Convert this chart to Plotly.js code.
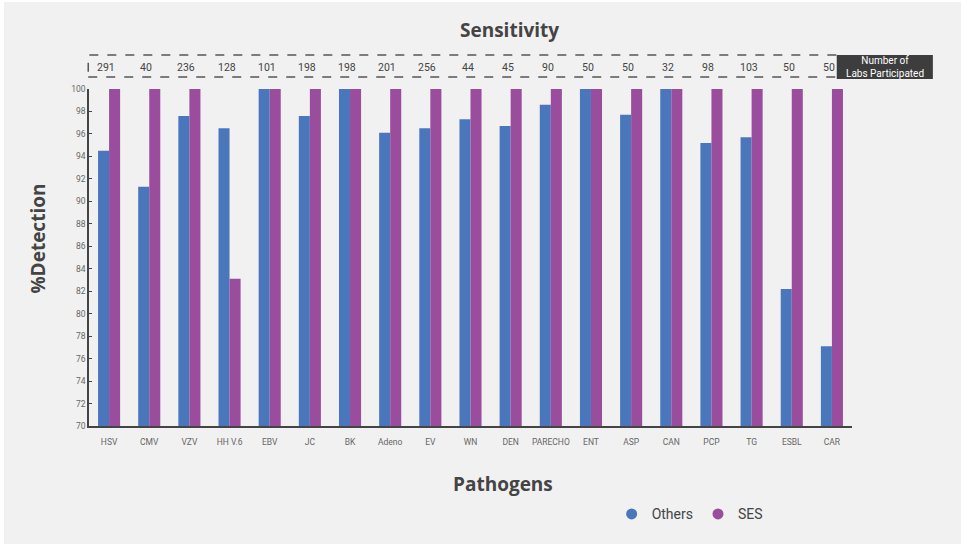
<!DOCTYPE html>
<html>
<head>
<meta charset="utf-8">
<script src="https://cdn.plot.ly/plotly-3.0.1.min.js"></script>
<style>
html,body{margin:0;padding:0;background:#ffffff;}
#chart{position:absolute;left:4px;top:2px;width:957px;height:542px;}
</style>
</head>
<body>
<div id="chart"></div>
<script>
var pathogens = ["HSV","CMV","VZV","HH V.6","EBV","JC","BK","Adeno","EV","WN","DEN","PARECHO","ENT","ASP","CAN","PCP","TG","ESBL","CAR"];
var othersValues = [94.5,91.3,97.6,96.5,100,97.6,100,96.1,96.5,97.3,96.7,98.6,100,97.7,100,95.2,95.7,82.2,77.1];
var sesValues = [100,100,100,83.1,100,100,100,100,100,100,100,100,100,100,100,100,100,100,100];
var labsParticipated = [291,40,236,128,101,198,198,201,256,44,45,90,50,50,32,98,103,50,50];

var blue = "#4a77bc", purple = "#9a4c9d";

var traces = [
  {type:"bar", name:"Others", x:pathogens, y:othersValues, marker:{color:blue}, showlegend:false, hoverinfo:"x+y"},
  {type:"bar", name:"SES", x:pathogens, y:sesValues, marker:{color:purple}, showlegend:false, hoverinfo:"x+y"},
  {type:"scatter", mode:"markers", name:"Others", x:[null], y:[null], marker:{color:blue, size:11, symbol:"circle"}},
  {type:"scatter", mode:"markers", name:"SES", x:[null], y:[null], marker:{color:purple, size:11, symbol:"circle"}}
];

var annotations = [];
for (var i = 0; i < pathogens.length; i++) {
  annotations.push({xref:"x", yref:"paper", x:pathogens[i], y:1.065, xshift:-3, text:String(labsParticipated[i]),
    showarrow:false, font:{family:"Roboto", size:10.5, color:"#444"}, xanchor:"center", yanchor:"middle"});
}
annotations.push({xref:"paper", yref:"paper", x:1.043, y:1.065, text:"Number of<br>Labs Participated",
  showarrow:false, font:{family:"Roboto", size:10, color:"#ffffff"}, xanchor:"center", yanchor:"middle"});
annotations.push({xref:"paper", yref:"paper", x:0.5505, y:1.175, text:"<b>Sensitivity</b>",
  showarrow:false, font:{family:"Open Sans", size:19, color:"#444"}, xanchor:"center", yanchor:"middle"});
annotations.push({xref:"paper", yref:"paper", x:0.5426, y:-0.172, text:"<b>Pathogens</b>",
  showarrow:false, font:{family:"Open Sans", size:19, color:"#444"}, xanchor:"center", yanchor:"middle"});
annotations.push({xref:"paper", yref:"paper", x:-0.067, y:0.556, text:"<b>%Detection</b>", textangle:-90,
  showarrow:false, font:{family:"Open Sans", size:19, color:"#444"}, xanchor:"center", yanchor:"middle"});

var layout = {
  width:957, height:542,
  margin:{l:85, r:109, t:87, b:118},
  paper_bgcolor:"#f1f1f1", plot_bgcolor:"#f1f1f1",
  barmode:"group", bargap:0.45, bargroupgap:0,
  font:{family:"Roboto", color:"#666"},
  xaxis:{type:"category", showline:true, linecolor:"#444", linewidth:1.5, ticks:"", showgrid:false,
    tickfont:{family:"Roboto", size:8.5, color:"#666"}, ticklabelstandoff:7, tickangle:0, zeroline:false},
  yaxis:{range:[70,100], dtick:2, showline:true, linecolor:"#444", linewidth:1.5, ticks:"inside", ticklen:3,
    tickcolor:"#444", showgrid:false, zeroline:false, tickfont:{family:"Roboto", size:8.5, color:"#666"}},
  showlegend:true,
  legend:{orientation:"h", x:0.685, y:-0.262, xanchor:"left", yanchor:"middle", bgcolor:"rgba(0,0,0,0)",
    font:{family:"Roboto", size:14, color:"#444"}, itemwidth:30, tracegroupgap:0},
  annotations:annotations,
  shapes:[
    {type:"rect", xref:"paper", yref:"paper", x0:-0.001, x1:0.982, y0:1.0356, y1:1.101,
      line:{color:"#555", width:1.5, dash:"dash"}, fillcolor:"rgba(0,0,0,0)"},
    {type:"rect", xref:"paper", yref:"paper", x0:0.980, x1:1.106, y0:1.0297, y1:1.1009,
      line:{width:0}, fillcolor:"#3d3d3d"}
  ]
};

Plotly.newPlot("chart", traces, layout, {displayModeBar:false, responsive:false});
</script>
</body>
</html>
